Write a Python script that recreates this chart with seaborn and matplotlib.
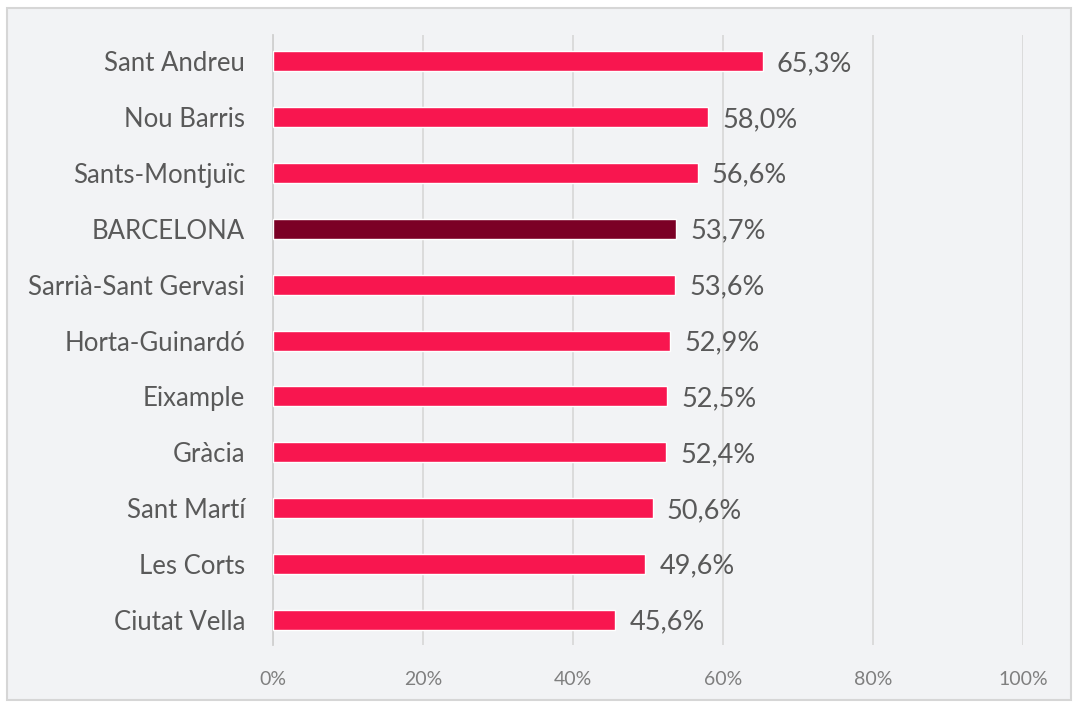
import matplotlib.pyplot as plt
import matplotlib.patches as mpatches
import pandas as pd
import seaborn as sns

districts = ["Sant Andreu", "Nou Barris", "Sants-Montjuïc", "BARCELONA",
             "Sarrià-Sant Gervasi", "Horta-Guinardó", "Eixample", "Gràcia",
             "Sant Martí", "Les Corts", "Ciutat Vella"]
values = [65.3, 58.0, 56.6, 53.7, 53.6, 52.9, 52.5, 52.4, 50.6, 49.6, 45.6]
x_ticks = [0, 20, 40, 60, 80, 100]

pink = "#F8164F"
dark = "#7B0025"
bg = "#F2F3F5"

df = pd.DataFrame({"district": districts, "value": values})
palette = {d: (dark if d == "BARCELONA" else pink) for d in districts}

sns.set_style("white")
plt.rcParams["font.family"] = ["Lato", "DejaVu Sans"]

fig = plt.figure(figsize=(10.73, 7.02), dpi=100, facecolor="white")
# light panel with thin border, like the Excel chart area
fig.patches.append(mpatches.Rectangle((7 / 1073, 2 / 702), 1064 / 1073, 692 / 702,
                                      transform=fig.transFigure, facecolor=bg,
                                      edgecolor="#d6d6d6", linewidth=1.5, zorder=-5))
ax = fig.add_axes([273 / 1073, 57 / 702, 750 / 1073, 610 / 702])
ax.set_zorder(2)
ax.set_facecolor(bg)

sns.barplot(data=df, x="value", y="district", hue="district", palette=palette,
            legend=False, width=0.36, saturation=1, ax=ax, zorder=3)

for i, v in enumerate(values):
    ax.text(v + 1.9, i + 0.04, f"{v:.1f}%".replace(".", ","), va="center", ha="left",
            fontsize=19.5, color="#595959")

ax.set_xlim(0, 100)
ax.set_ylim(10.45, -0.47)
ax.set_xticks(x_ticks)
ax.set_xticklabels([f"{t}%" for t in x_ticks], fontsize=14, color="#7f7f7f")
ax.tick_params(axis="x", length=0, pad=19)
ax.tick_params(axis="y", length=0, pad=20, labelsize=18.5, labelcolor="#595959")
ax.set_xlabel("")
ax.set_ylabel("")
ax.grid(axis="x", color="#d9d9d9", linewidth=1.3, zorder=0)
for s in ["top", "right", "bottom"]:
    ax.spines[s].set_visible(False)
ax.spines["left"].set_color("#d0d0d0")
ax.spines["left"].set_linewidth(1.3)

fig.savefig("out.png", dpi=100, facecolor="white")
